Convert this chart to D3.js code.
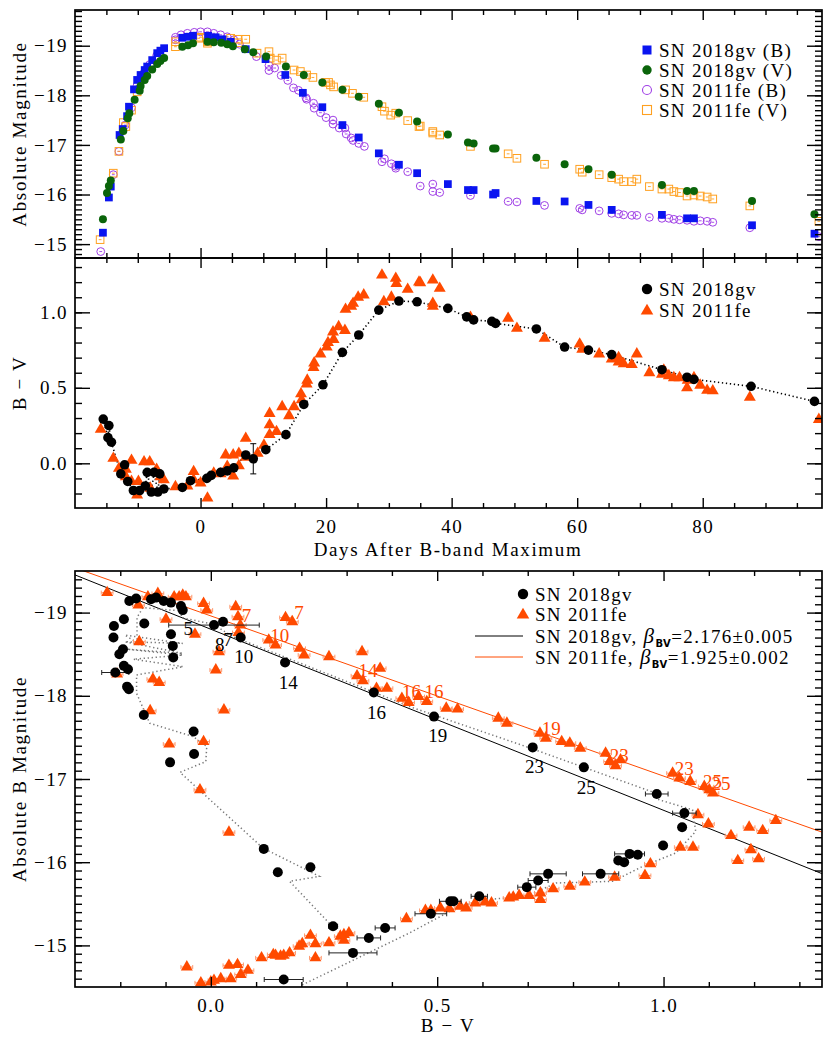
<!DOCTYPE html>
<html>
<head>
<meta charset="utf-8">
<script src="https://cdn.jsdelivr.net/npm/d3@7"></script>
<style>
  body { margin: 0; background: #fff; }
</style>
</head>
<body>
<div id="chart"></div>
<script>
// ---- data ----
// top panel: [days after B max, absolute magnitude]
var gvB = [[-15.55,-15.23],[-14.6,-15.94],[-14.3,-16.16],[-12.9,-17.2],[-12.4,-17.32],[-11.7,-17.58],[-11.4,-17.77],[-10.6,-18.12],[-10.1,-18.31],[-9.55,-18.41],[-8.9,-18.51],[-8.5,-18.58],[-7.7,-18.71],[-6.9,-18.85],[-6.4,-18.9],[-5.8,-18.95],[-2.9,-19.16],[-2.0,-19.18],[-1.2,-19.2],[1.2,-19.2],[2.4,-19.17],[3.5,-19.13],[4.8,-19.08],[7.2,-18.93],[10.35,-18.73],[13.5,-18.41],[16.3,-18.05],[19.4,-17.76],[22.6,-17.4],[25.2,-17.15],[28.4,-16.83],[31.6,-16.6],[34.5,-16.43],[39.4,-16.21],[42.6,-16.09],[43.5,-16.09],[46.6,-16.0],[47.0,-16.03],[53.5,-15.87],[58.0,-15.86],[61.8,-15.79],[65.5,-15.69],[73.5,-15.59],[77.5,-15.52],[78.6,-15.52],[87.85,-15.38],[97.8,-15.21]];
var gvV = [[-15.55,-15.5],[-14.9,-16.03],[-14.6,-16.17],[-14.3,-16.28],[-12.7,-17.11],[-12.3,-17.28],[-11.6,-17.54],[-11.35,-17.64],[-10.5,-17.91],[-9.7,-18.09],[-9.55,-18.19],[-8.9,-18.31],[-8.5,-18.39],[-7.7,-18.52],[-6.9,-18.63],[-6.4,-18.69],[-5.8,-18.75],[-2.9,-18.98],[-2.0,-19.01],[-1.2,-19.05],[1.1,-19.08],[2.1,-19.07],[3.3,-19.06],[4.25,-19.03],[5.15,-18.99],[7.05,-18.93],[8.4,-18.87],[10.45,-18.78],[13.6,-18.58],[16.45,-18.41],[19.4,-18.26],[22.6,-18.11],[25.2,-17.97],[28.4,-17.83],[31.6,-17.65],[34.5,-17.47],[39.4,-17.21],[42.6,-17.05],[43.5,-17.03],[46.6,-16.93],[47.0,-16.93],[53.5,-16.74],[58.0,-16.61],[61.8,-16.51],[65.5,-16.4],[73.5,-16.19],[77.5,-16.07],[78.6,-16.07],[87.85,-15.87],[97.8,-15.6]];
var feB = [[-15.9,-14.85],[-13.9,-16.4],[-13.0,-16.87],[-12.0,-17.4],[-11.0,-17.75],[-10.1,-18.2],[-9.0,-18.45],[-8.1,-18.62],[-7.0,-18.8],[-4.0,-19.12],[-4.0,-19.17],[-3.1,-19.22],[-2.1,-19.25],[-1.0,-19.27],[0,-19.28],[1.1,-19.28],[2.1,-19.25],[3.2,-19.22],[4.25,-19.18],[5.3,-19.12],[6.2,-19.03],[8.9,-18.78],[10.9,-18.6],[10.9,-18.5],[11.8,-18.55],[12.85,-18.4],[13.9,-18.3],[14.8,-18.15],[15.6,-18.1],[16.8,-17.95],[16.9,-17.92],[18.0,-17.84],[18.1,-17.74],[19.1,-17.65],[20.0,-17.55],[21.1,-17.5],[21.1,-17.42],[22.1,-17.34],[23.0,-17.34],[23.2,-17.22],[24.0,-17.14],[24.3,-17.09],[25.2,-17.03],[26.1,-16.97],[28.9,-16.66],[29.3,-16.72],[30.4,-16.62],[31.1,-16.57],[31.1,-16.53],[33.0,-16.46],[35.0,-16.17],[37.0,-16.21],[37.0,-16.06],[38.1,-16.04],[43.0,-15.98],[49.0,-15.86],[50.4,-15.85],[54.8,-15.78],[60.4,-15.72],[60.8,-15.69],[63.5,-15.67],[65.5,-15.62],[66.6,-15.61],[67.4,-15.59],[68.7,-15.58],[69.5,-15.58],[71.5,-15.54],[73.5,-15.52],[74.6,-15.52],[75.4,-15.5],[76.3,-15.49],[77.5,-15.48],[78.6,-15.46],[79.6,-15.47],[80.7,-15.46],[81.6,-15.44],[87.5,-15.33],[98.5,-15.15]];
var feV = [[-16.0,-15.09],[-13.9,-16.43],[-13.0,-16.87],[-12.3,-17.45],[-11.9,-17.37],[-11.0,-17.7],[-10.1,-18.07],[-4.0,-19.08],[-4.0,-18.98],[-0.3,-19.15],[0,-19.17],[1.1,-19.08],[1.1,-19.05],[4.8,-19.15],[5.9,-19.13],[6.0,-19.06],[7.2,-19.13],[9.0,-18.85],[10.9,-18.88],[11.1,-18.75],[12.1,-18.71],[13.0,-18.75],[14.9,-18.51],[15.9,-18.48],[16.9,-18.41],[17.9,-18.36],[19.9,-18.26],[20.4,-18.26],[20.7,-18.21],[21.2,-18.17],[23.1,-18.11],[24.2,-18.04],[26.0,-17.96],[28.9,-17.77],[29.3,-17.68],[30.3,-17.6],[31.1,-17.64],[33.0,-17.49],[34.8,-17.37],[35.0,-17.38],[37.0,-17.27],[37.0,-17.24],[38.1,-17.2],[43.0,-16.97],[49.0,-16.82],[50.4,-16.73],[54.8,-16.61],[60.4,-16.51],[60.8,-16.45],[63.5,-16.4],[65.5,-16.34],[66.6,-16.31],[67.4,-16.26],[68.7,-16.26],[69.5,-16.31],[71.5,-16.16],[73.5,-16.11],[74.6,-16.11],[75.4,-16.06],[76.3,-16.04],[77.5,-15.97],[78.6,-15.99],[79.6,-15.97],[80.7,-15.95],[81.6,-15.91],[87.5,-15.77],[98.5,-15.46]];

// middle panel: [days, B-V, error]
var gvBV = [[-15.5,0.293,0],[-14.75,0.17,0],[-14.6,0.25,0],[-14.2,0.14,0],[-12.7,-0.07,0],[-12.1,-0.01,0],[-11.6,-0.12,0],[-10.7,-0.18,0],[-9.7,-0.18,0],[-8.8,-0.15,0],[-8.5,-0.06,0],[-7.85,-0.19,0],[-7.4,-0.06,0],[-6.8,-0.19,0],[-6.5,-0.07,0],[-5.85,-0.17,0],[-2.9,-0.16,0],[-1.6,-0.115,0],[1.0,-0.1,0],[1.7,-0.08,0],[3.2,-0.06,0],[4.25,-0.05,0],[5.3,-0.03,0],[7.2,0.055,0],[8.4,0.03,0.1],[10.4,0.09,0],[13.6,0.19,0],[16.45,0.39,0],[19.5,0.52,0],[22.6,0.735,0],[25.2,0.85,0],[28.4,1.015,0],[31.6,1.075,0],[34.5,1.07,0],[39.4,1.026,0],[42.4,0.97,0],[43.5,0.95,0],[46.4,0.94,0],[47.0,0.927,0],[53.5,0.89,0.02],[58.0,0.77,0.02],[61.8,0.75,0],[65.5,0.72,0],[73.5,0.62,0],[77.5,0.57,0],[78.6,0.556,0],[87.7,0.51,0],[97.8,0.41,0]];
var feBV = [[-15.9,0.225],[-13.9,0.033],[-13.0,-0.033],[-11.9,-0.04],[-11.9,-0.09],[-11.0,0.02],[-11.0,-0.12],[-10.1,-0.21],[-9.9,-0.12],[-9.0,0.01],[-8.1,0.01],[-8.0,-0.165],[-7.0,-0.04],[-6.4,-0.09],[-5.85,-0.11],[-4.0,-0.155],[-2.1,-0.15],[-1.1,-0.055],[-1.1,-0.11],[0,-0.13],[1.1,-0.23],[2.1,-0.066],[3.2,-0.07],[4.0,0.055],[4.25,-0.02],[5.2,0.055],[5.2,-0.085],[6.1,0.066],[6.1,-0.016],[7.2,0.165],[7.2,0.04],[9.1,0.066],[10.1,0.12],[11.0,0.33],[11.0,0.255],[11.0,0.19],[12.1,0.21],[13.0,0.375],[14.1,0.315],[14.9,0.375],[16.0,0.46],[16.1,0.42],[16.9,0.525],[17.0,0.55],[18.0,0.635],[18.1,0.665],[19.1,0.724],[20.1,0.77],[20.3,0.8],[21.2,0.82],[21.1,0.87],[22.0,0.905],[23.0,0.88],[23.1,1.02],[24.0,1.04],[24.3,1.06],[25.1,1.1],[26.0,1.115],[28.9,1.247],[29.2,1.07],[30.4,1.1],[31.1,1.225],[31.2,1.19],[33.0,1.152],[34.8,1.2],[35.0,1.196],[37.0,1.214],[37.0,1.06],[37.0,1.04],[38.1,1.159],[43.0,0.967],[49.0,0.96],[50.4,0.894],[54.8,0.828],[60.4,0.79],[60.8,0.755],[63.5,0.724],[65.5,0.69],[66.6,0.7],[66.6,0.67],[67.4,0.66],[68.7,0.654],[69.5,0.724],[71.5,0.6],[73.5,0.59],[73.8,0.617],[74.6,0.58],[75.4,0.567],[76.3,0.567],[77.5,0.5],[77.6,0.55],[78.6,0.567],[79.6,0.517],[80.7,0.483],[81.6,0.48],[87.5,0.437],[98.5,0.29]];

// bottom panel: [B-V, M_B, colour error]
var gvCMD = [[-0.18,-19.14,0],[-0.165,-19.17,0],[-0.132,-19.16,0],[-0.121,-19.18,0],[-0.104,-19.14,0],[-0.088,-19.12,0],[-0.066,-19.08,0],[-0.062,-19.03,0],[0.007,-18.85,0.1],[0.027,-18.89,0],[0.066,-18.70,0],[0.164,-18.40,0],[0.36,-18.04,0],[-0.214,-18.84,0],[-0.215,-18.70,0],[-0.192,-18.92,0],[-0.147,-18.87,0],[-0.088,-18.74,0],[-0.084,-18.60,0],[-0.083,-18.46,0],[-0.194,-18.56,0],[-0.202,-18.5,0],[-0.192,-18.36,0],[-0.183,-18.32,0],[-0.211,-18.28,0.03],[-0.185,-18.11,0],[-0.181,-18.08,0],[-0.148,-17.77,0],[-0.038,-17.57,0],[-0.037,-17.30,0],[-0.09,-17.2,0],[0.117,-16.16,0],[0.148,-15.88,0],[0.22,-15.94,0],[0.27,-15.23,0.01],[0.314,-14.91,0.053],[0.349,-15.09,0.026],[0.385,-15.21,0.022],[0.161,-14.59,0.043],[0.486,-15.38,0.035],[0.529,-15.53,0.024],[0.536,-15.53,0],[0.593,-15.59,0.018],[0.698,-15.70,0.02],[0.723,-15.78,0.022],[0.745,-15.86,0.04],[0.861,-15.86,0.04],[0.9,-16.02,0],[0.913,-16.0,0],[0.925,-16.1,0.033],[0.943,-16.09,0],[0.999,-16.2,0],[1.041,-16.42,0],[1.046,-16.59,0.026],[0.985,-16.82,0.025],[0.824,-17.14,0],[0.711,-17.38,0],[0.493,-17.75,0]];
var feCMD = [[-0.229,-19.24],[-0.16,-19.09],[-0.139,-19.19],[-0.117,-19.23],[-0.081,-19.19],[-0.07,-19.19],[-0.062,-19.21],[-0.055,-19.19],[-0.099,-18.92],[-0.035,-18.74],[-0.016,-19.11],[-0.009,-19.03],[0.055,-19.07],[0.06,-18.95],[0.065,-18.85],[0.061,-18.76],[0.018,-18.53],[0.011,-18.31],[0.029,-17.83],[-0.158,-18.65],[-0.207,-18.26],[-0.128,-18.20],[-0.114,-18.16],[-0.134,-17.82],[-0.092,-17.42],[-0.016,-17.45],[-0.024,-16.87],[0.128,-18.67],[0.143,-18.61],[0.165,-18.94],[0.18,-18.89],[0.196,-18.57],[0.206,-18.49],[0.261,-18.47],[0.323,-18.24],[0.334,-18.53],[0.336,-18.18],[0.366,-18.09],[0.374,-18.33],[0.389,-18.09],[0.422,-17.97],[0.437,-17.92],[0.459,-17.99],[0.477,-17.93],[0.52,-17.85],[0.545,-17.84],[0.635,-17.73],[0.654,-17.67],[0.727,-17.55],[0.74,-17.49],[0.775,-17.45],[0.793,-17.43],[0.816,-17.37],[0.872,-17.31],[0.881,-17.21],[0.894,-17.16],[0.905,-17.23],[1.02,-17.07],[1.035,-17.01],[1.059,-16.97],[1.09,-16.91],[1.101,-16.87],[1.109,-16.83],[1.076,-16.57],[1.099,-16.46],[1.037,-16.18],[1.065,-16.18],[1.149,-16.32],[1.189,-16.42],[1.219,-16.38],[1.248,-16.5],[1.193,-16.15],[1.164,-16.02],[1.21,-16.04],[0.971,-15.98],[0.959,-15.84],[0.892,-15.82],[0.826,-15.76],[0.793,-15.71],[0.756,-15.68],[0.728,-15.63],[0.728,-15.55],[0.703,-15.6],[0.681,-15.6],[0.668,-15.58],[0.659,-15.57],[0.62,-15.51],[0.606,-15.52],[0.584,-15.51],[0.564,-15.45],[0.551,-15.47],[0.527,-15.44],[0.507,-15.45],[0.486,-15.42],[0.474,-15.42],[0.432,-15.32],[0.305,-15.15],[0.294,-15.13],[0.286,-15.11],[0.294,-15.06],[0.261,-15.03],[0.231,-15.02],[0.22,-15.12],[0.231,-14.85],[0.202,-15.02],[0.195,-14.99],[0.174,-14.91],[0.161,-14.88],[0.154,-14.87],[0.143,-14.88],[0.138,-14.89],[0.112,-14.85],[0.082,-14.70],[0.066,-14.65],[0.059,-14.77],[0.044,-14.6],[0.04,-14.76],[0.022,-14.6],[0.007,-14.58],[0,-14.56],[-0.022,-14.55],[-0.053,-14.74],[0.04,-16.36]];
// dotted time track of SN 2018gv in the colour-magnitude plane
var gvTrack = [[0.268,-15.23],[0.174,-15.77],[0.24,-15.83],[0.115,-16.17],[-0.068,-17.08],[-0.011,-17.21],[-0.009,-17.39],[-0.039,-17.51],[-0.135,-17.67],[-0.164,-18.03],[-0.164,-18.25],[-0.061,-18.35],[-0.171,-18.44],[-0.062,-18.49],[-0.185,-18.56],[-0.062,-18.51],[-0.19,-18.65],[-0.062,-18.63],[-0.19,-18.73],[-0.163,-18.64],[-0.163,-18.94],[-0.15,-19.06],[-0.065,-19.02],[-0.065,-18.94],[0.005,-18.86],[0.049,-18.71],[0.357,-18.05],[0.439,-17.87],[0.696,-17.39],[0.983,-16.83],[0.99,-16.75],[1.064,-16.63],[1.071,-16.37],[1.027,-16.11],[0.954,-15.95],[0.91,-15.83],[0.888,-15.77],[0.763,-15.75],[0.696,-15.59],[0.608,-15.55],[0.549,-15.47],[0.439,-15.15],[0.2,-14.52]];
// linear fits  M_B = icpt + beta * (B-V)
var fitNames = ["SN 2018gv", "SN 2011fe"];
var fitBeta = [2.176, 1.925];
var fitBetaErr = ["0.005", "0.002"];
var fitIcpt = [-18.80, -18.96];
// phase labels [B-V, M_B, text]
var gvLabels = [[-0.05,-18.73,"5"],[0.02,-18.54,"8"],[0.038,-18.60,"7"],[0.073,-18.39,"10"],[0.171,-18.08,"14"],[0.366,-17.72,"16"],[0.501,-17.44,"19"],[0.715,-17.07,"23"],[0.829,-16.82,"25"]];
var feLabels = [[0.079,-18.89,"7"],[0.195,-18.92,"7"],[0.152,-18.65,"10"],[0.347,-18.22,"14"],[0.443,-17.97,"16"],[0.493,-17.97,"16"],[0.752,-17.53,"19"],[0.902,-17.21,"23"],[1.046,-17.05,"23"],[1.108,-16.89,"25"],[1.127,-16.87,"25"]];

// ---- setup ----
var FONT = '"Liberation Serif", "DejaVu Serif", serif';
var BLUE = '#0a14f0', GREEN = '#0a640a', PURPLE = '#a040e6', ORANGE = '#ffa020', RED = '#ff4a00';

var svg = d3.select("#chart").append("svg")
  .attr("width", 830).attr("height", 1039)
  .style("font-family", FONT);

var xDay = d3.scaleLinear().domain([-20, 99]).range([75, 822]);
var yMag = d3.scaleLinear().domain([-14.72, -19.72]).range([258, 10]);
var yBV = d3.scaleLinear().domain([-0.296, 1.36]).range([508, 258]);
var xCol = d3.scaleLinear().domain([-0.3, 1.35]).range([75, 822]);
var yAbs = d3.scaleLinear().domain([-14.5, -19.5]).range([987, 571]);

function tenths(a, b) { return d3.range(a, b + 1).map(function(v){ return v / 10; }); }

function styleAxis(sel) {
  sel.select(".domain").remove();
  sel.selectAll("line").attr("stroke", "#000").attr("stroke-width", 1.4);
  sel.attr("font-family", FONT).attr("font-size", 19).attr("fill", "#000");
  sel.selectAll("text").attr("fill", "#000").style("letter-spacing", "1.4px");
}

function frame(g, x, y, o) {
  var xr = x.range(), yr = y.range();
  var none = function(){ return ""; };
  var add = function(axis, tx, ty) {
    g.append("g").attr("transform", "translate(" + tx + "," + ty + ")").call(axis).call(styleAxis);
  };
  add(d3.axisBottom(x).tickValues(o.xMinor).tickSize(-5).tickFormat(none), 0, yr[0]);
  add(d3.axisBottom(x).tickValues(o.xMajor).tickSize(-10).tickPadding(o.xPad || 14).tickFormat(o.xFmt || none), 0, yr[0]);
  add(d3.axisTop(x).tickValues(o.xMinor).tickSize(-5).tickFormat(none), 0, yr[1]);
  add(d3.axisTop(x).tickValues(o.xMajor).tickSize(-10).tickFormat(none), 0, yr[1]);
  add(d3.axisLeft(y).tickValues(o.yMinor).tickSize(-7).tickFormat(none), xr[0], 0);
  add(d3.axisLeft(y).tickValues(o.yMajor).tickSize(-15).tickPadding(7).tickFormat(o.yFmt), xr[0], 0);
  add(d3.axisRight(y).tickValues(o.yMinor).tickSize(-7).tickFormat(none), xr[1], 0);
  add(d3.axisRight(y).tickValues(o.yMajor).tickSize(-15).tickFormat(none), xr[1], 0);
  g.append("rect").attr("x", xr[0]).attr("y", yr[1])
    .attr("width", xr[1] - xr[0]).attr("height", yr[0] - yr[1])
    .attr("fill", "none").attr("stroke", "#000").attr("stroke-width", 1.7);
}

function clip(id, x, y) {
  svg.append("clipPath").attr("id", id).append("rect")
    .attr("x", x.range()[0]).attr("y", y.range()[1])
    .attr("width", x.range()[1] - x.range()[0]).attr("height", y.range()[0] - y.range()[1]);
  return svg.append("g").attr("clip-path", "url(#" + id + ")");
}

var sym = function(type, size) { return d3.symbol().type(type).size(size)(); };
var dayMajor = [0, 20, 40, 60, 80];
var dayMinor = d3.range(-15, 99, 5).filter(function(d){ return d % 20 !== 0; });

// ---- top panel: light curves ----
var g1 = clip("c1", xDay, yMag);
g1.selectAll(".feB").data(feB).enter().append("g")
  .attr("transform", function(d){ return "translate(" + xDay(d[0]) + "," + yMag(d[1]) + ")"; })
  .each(function(){
    var s = d3.select(this);
    s.append("circle").attr("r", 3.9).attr("fill", "none").attr("stroke", PURPLE).attr("stroke-width", 1);
    s.append("line").attr("x1", -1.4).attr("x2", 1.4).attr("stroke", PURPLE).attr("stroke-width", 0.9);
  });
g1.selectAll(".feV").data(feV).enter().append("g")
  .attr("transform", function(d){ return "translate(" + xDay(d[0]) + "," + yMag(d[1]) + ")"; })
  .each(function(){
    var s = d3.select(this);
    s.append("rect").attr("x", -3.8).attr("y", -3.8).attr("width", 7.6).attr("height", 7.6)
      .attr("fill", "none").attr("stroke", ORANGE).attr("stroke-width", 1);
    s.append("line").attr("x1", -1.4).attr("x2", 1.4).attr("stroke", ORANGE).attr("stroke-width", 0.9);
  });
g1.selectAll(".gvB").data(gvB).enter().append("path")
  .attr("d", sym(d3.symbolSquare, 60))
  .attr("transform", function(d){ return "translate(" + xDay(d[0]) + "," + yMag(d[1]) + ")"; })
  .attr("fill", BLUE);
g1.selectAll(".gvV").data(gvV).enter().append("circle")
  .attr("cx", function(d){ return xDay(d[0]); }).attr("cy", function(d){ return yMag(d[1]); })
  .attr("r", 4).attr("fill", GREEN);

frame(svg.append("g"), xDay, yMag, {
  xMajor: dayMajor, xMinor: dayMinor,
  yMajor: [-19, -18, -17, -16, -15], yMinor: tenths(-197, -148), yFmt: d3.format("d")
});

// legend top
var leg1 = svg.append("g").attr("font-size", 19).style("letter-spacing", "1.3px");
var leg1Names = ["SN 2018gv (B)", "SN 2018gv (V)", "SN 2011fe (B)", "SN 2011fe (V)"];
leg1Names.forEach(function(t, i){
  var y = 50 + i * 20;
  leg1.append("text").attr("x", 659).attr("y", y + 6.5).text(t);
});
leg1.append("rect").attr("x", 642.5).attr("y", 45.5).attr("width", 9).attr("height", 9).attr("fill", BLUE);
leg1.append("circle").attr("cx", 647).attr("cy", 70).attr("r", 4.7).attr("fill", GREEN);
leg1.append("circle").attr("cx", 647).attr("cy", 90).attr("r", 4.5).attr("fill", "none").attr("stroke", PURPLE).attr("stroke-width", 1.1);
leg1.append("rect").attr("x", 642.5).attr("y", 105.5).attr("width", 9).attr("height", 9).attr("fill", "none").attr("stroke", ORANGE).attr("stroke-width", 1.1);

// ---- middle panel: B-V colour ----
var g2 = clip("c2", xDay, yBV);
var gvSorted = gvBV.slice().sort(function(a, b){ return a[0] - b[0]; });
g2.append("path").datum(gvSorted)
  .attr("d", d3.line().x(function(d){ return xDay(d[0]); }).y(function(d){ return yBV(d[1]); }))
  .attr("fill", "none").attr("stroke", "#000").attr("stroke-width", 1.6).attr("stroke-dasharray", "1.3,2.7");
g2.selectAll(".err").data(gvBV.filter(function(d){ return d[2] > 0.05; })).enter().append("path")
  .attr("d", function(d){
    var x = xDay(d[0]), a = yBV(d[1] - d[2]), b = yBV(d[1] + d[2]);
    return "M" + x + "," + a + "V" + b + "M" + (x - 3) + "," + a + "h6M" + (x - 3) + "," + b + "h6";
  })
  .attr("stroke", "#000").attr("stroke-width", 1).attr("fill", "none");
g2.selectAll(".fe").data(feBV).enter().append("path")
  .attr("d", sym(d3.symbolTriangle, 62))
  .attr("transform", function(d){ return "translate(" + xDay(d[0]) + "," + yBV(d[1]) + ")"; })
  .attr("fill", RED);
g2.selectAll(".gv").data(gvBV).enter().append("circle")
  .attr("cx", function(d){ return xDay(d[0]); }).attr("cy", function(d){ return yBV(d[1]); })
  .attr("r", 4.8).attr("fill", "#000");

frame(svg.append("g"), xDay, yBV, {
  xMajor: dayMajor, xMinor: dayMinor, xFmt: d3.format("d"), xPad: 12,
  yMajor: [0, 0.5, 1.0], yMinor: tenths(-2, 13), yFmt: d3.format(".1f")
});

var leg2 = svg.append("g").attr("font-size", 19).style("letter-spacing", "1.3px");
leg2.append("circle").attr("cx", 647).attr("cy", 289).attr("r", 5.2).attr("fill", "#000");
leg2.append("path").attr("d", sym(d3.symbolTriangle, 68)).attr("transform", "translate(647,311)").attr("fill", RED);
leg2.append("text").attr("x", 659).attr("y", 295.5).text("SN 2018gv");
leg2.append("text").attr("x", 659).attr("y", 317).text("SN 2011fe");

// ---- bottom panel: colour-magnitude ----
var g3 = clip("c3", xCol, yAbs);
var fitCols = ["#000", RED];
fitBeta.forEach(function(b, i){
  var c0 = xCol.domain()[0], c1 = xCol.domain()[1];
  g3.append("line")
    .attr("x1", xCol(c0)).attr("y1", yAbs(fitIcpt[i] + b * c0))
    .attr("x2", xCol(c1)).attr("y2", yAbs(fitIcpt[i] + b * c1))
    .attr("stroke", fitCols[i]).attr("stroke-width", 1);
});
g3.append("path").datum(gvTrack)
  .attr("d", d3.line().x(function(d){ return xCol(d[0]); }).y(function(d){ return yAbs(d[1]); }))
  .attr("fill", "none").attr("stroke", "#777").attr("stroke-width", 1.5).attr("stroke-dasharray", "1.3,2.7");
// 2011fe with small error bars
g3.selectAll(".feErr").data(feCMD).enter().append("path")
  .attr("d", function(d){
    var y = yAbs(d[1]), a = xCol(d[0] - 0.013), b = xCol(d[0] + 0.013);
    return "M" + a + "," + y + "H" + b + "M" + a + "," + (y - 2) + "v4M" + b + "," + (y - 2) + "v4";
  })
  .attr("stroke", "#ff9a70").attr("stroke-width", 1).attr("fill", "none");
g3.selectAll(".fe").data(feCMD).enter().append("path")
  .attr("d", sym(d3.symbolTriangle, 62))
  .attr("transform", function(d){ return "translate(" + xCol(d[0]) + "," + yAbs(d[1]) + ")"; })
  .attr("fill", RED);
g3.selectAll(".gvErr").data(gvCMD.filter(function(d){ return d[2] > 0; })).enter().append("path")
  .attr("d", function(d){
    var y = yAbs(d[1]), a = xCol(d[0] - d[2]), b = xCol(d[0] + d[2]);
    return "M" + a + "," + y + "H" + b + "M" + a + "," + (y - 2.5) + "v5M" + b + "," + (y - 2.5) + "v5";
  })
  .attr("stroke", "#222").attr("stroke-width", 1).attr("fill", "none");
g3.selectAll(".gv").data(gvCMD).enter().append("circle")
  .attr("cx", function(d){ return xCol(d[0]); }).attr("cy", function(d){ return yAbs(d[1]); })
  .attr("r", 5).attr("fill", "#000");
// phase labels
g3.selectAll(".feLab").data(feLabels).enter().append("text")
  .attr("x", function(d){ return xCol(d[0]); }).attr("y", function(d){ return yAbs(d[1]); })
  .attr("text-anchor", "middle").attr("font-size", 19).attr("fill", RED).text(function(d){ return d[2]; });
g3.selectAll(".gvLab").data(gvLabels).enter().append("text")
  .attr("x", function(d){ return xCol(d[0]); }).attr("y", function(d){ return yAbs(d[1]); })
  .attr("text-anchor", "middle").attr("font-size", 19).attr("fill", "#000").text(function(d){ return d[2]; });

frame(svg.append("g"), xCol, yAbs, {
  xMajor: [0, 0.5, 1.0], xMinor: tenths(-2, 13).filter(function(v){ return Math.abs(v * 2 - Math.round(v * 2)) > 1e-6; }),
  xFmt: d3.format(".1f"), xPad: 12,
  yMajor: [-19, -18, -17, -16, -15], yMinor: tenths(-194, -146), yFmt: d3.format("d")
});

var leg3 = svg.append("g").attr("font-size", 19).style("letter-spacing", "1.3px");
leg3.append("circle").attr("cx", 523).attr("cy", 594).attr("r", 5.2).attr("fill", "#000");
leg3.append("path").attr("d", sym(d3.symbolTriangle, 68)).attr("transform", "translate(523,615)").attr("fill", RED);
leg3.append("text").attr("x", 535).attr("y", 600.5).text("SN 2018gv");
leg3.append("text").attr("x", 535).attr("y", 621).text("SN 2011fe");
fitNames.forEach(function(n, i){
  var y = 636 + i * 21;
  leg3.append("line").attr("x1", 475).attr("x2", 523).attr("y1", y).attr("y2", y)
    .attr("stroke", fitCols[i]).attr("stroke-width", 1);
  var t = leg3.append("text").attr("x", 535).attr("y", y + 6.5);
  t.append("tspan").text(n + ", ");
  t.append("tspan").attr("font-style", "italic").attr("font-size", 21).text("β");
  t.append("tspan").attr("font-family", "'DejaVu Sans', sans-serif").attr("font-weight", "bold")
    .attr("font-size", 10).attr("dy", 4).style("letter-spacing", "0.5px").text("BV");
  t.append("tspan").attr("dy", -4).text("=" + fitBeta[i].toFixed(3) + "±" + fitBetaErr[i]);
});

// ---- axis titles ----
var titles = svg.append("g").attr("font-size", 19).style("letter-spacing", "1.65px").attr("text-anchor", "middle");
titles.append("text").attr("transform", "translate(26,134) rotate(-90)").text("Absolute Magnitude");
titles.append("text").attr("transform", "translate(26,383) rotate(-90)").text("B − V");
titles.append("text").attr("x", 448).attr("y", 556).text("Days After B-band Maximum");
titles.append("text").attr("transform", "translate(26,779) rotate(-90)").text("Absolute B Magnitude");
titles.append("text").attr("x", 448).attr("y", 1032).text("B − V");
</script>
</body>
</html>
